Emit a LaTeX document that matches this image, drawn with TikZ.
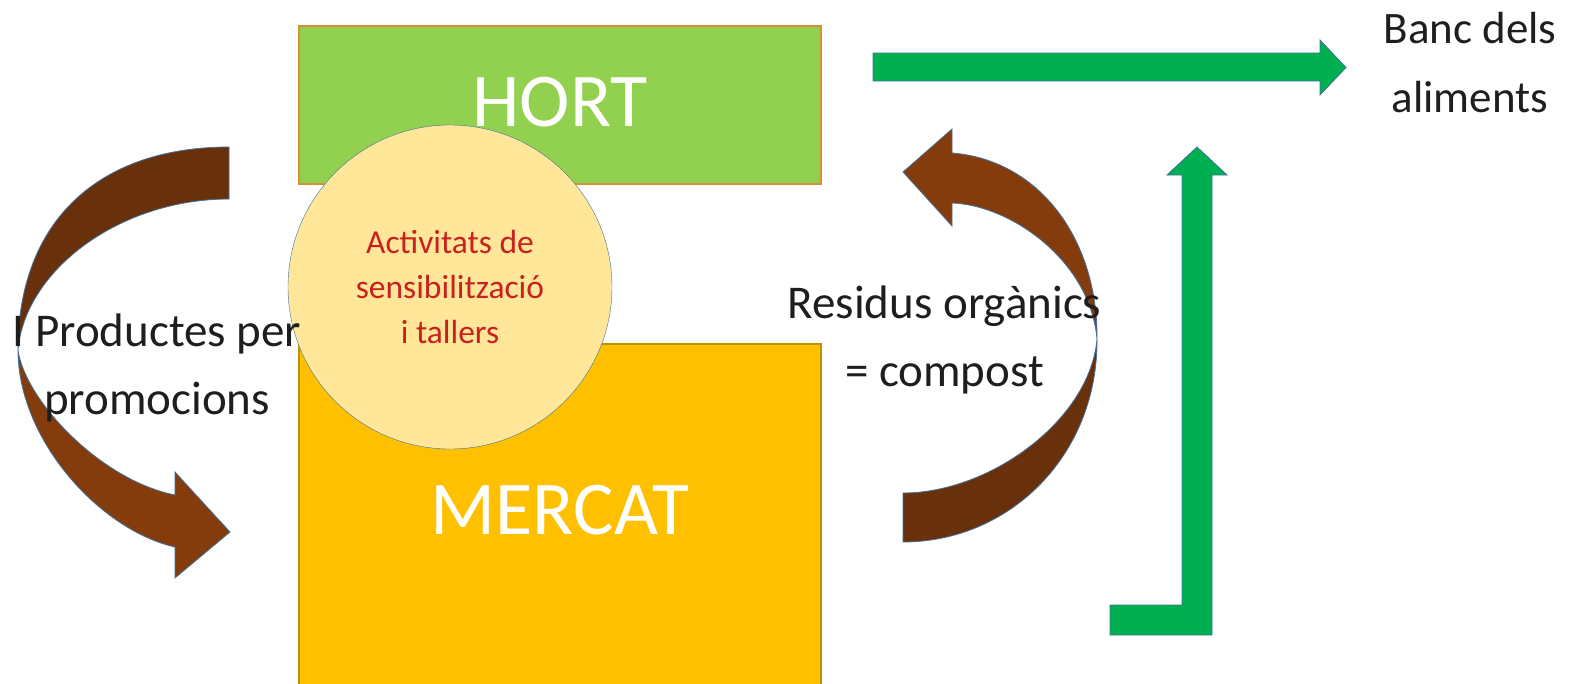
\documentclass[tikz,border=0pt]{standalone}
\usepackage{fontspec}
\setmainfont{Carlito}
\usepackage{xcolor}
\definecolor{hort-green}{HTML}{92D050}
\definecolor{hort-edge}{HTML}{D4913A}
\definecolor{mercat-gold}{HTML}{FFC000}
\definecolor{mercat-edge}{HTML}{BF9000}
\definecolor{taller-cream}{HTML}{FFE699}
\definecolor{taller-red}{HTML}{C9211E}
\definecolor{arrow-green}{HTML}{00B050}
\definecolor{brown-dark}{HTML}{69300C}
\definecolor{brown-light}{HTML}{843C0C}
\definecolor{edge-blue}{HTML}{41719C}
\definecolor{text-grey}{HTML}{1E1E1E}
\usepackage{tikz}

\begin{document}
\begin{tikzpicture}[x=1pt, y=-1pt,
    block/.style={draw, line width=1.2pt, minimum width=522pt, inner sep=0pt,
      text=white, font=\fontsize{76}{76}\selectfont},
    flowtext/.style={align=center, inner sep=0pt, text=text-grey,
      font=\fontsize{47}{68.5}\selectfont},
    bigarrow/.style={draw=edge-blue, line width=0.8pt}]

    % Page
    \useasboundingbox (0,0) rectangle (1580,683);

    % Boxes
    \node[block, fill=hort-green, draw=hort-edge, minimum height=158pt, text depth=6pt] (hort) at (560,105) {HORT};
    \node[block, fill=mercat-gold, draw=mercat-edge, minimum height=343pt, text depth=11pt] (mercat) at (560,515.5) {MERCAT};

    % Workshops
    \node[circle, draw=edge-blue, fill=taller-cream, minimum size=324pt, inner sep=0pt,
      text=taller-red, align=center, font=\fontsize{33.5}{45}\selectfont] (tallers) at (450,287)
      {Activitats de\\sensibilització\\i tallers};

    % Curved arrow, left
    \filldraw[bigarrow, fill=brown-dark] (229,147) .. controls (100,147) and (18,220) .. (18,350)
      .. controls (25,270) and (120,199) .. (229,199) -- cycle;
    \filldraw[bigarrow, fill=brown-light] (18,350) .. controls (18,440) and (100,530) .. (175,547)
      -- (175,578) -- (230,532) -- (175,472) -- (175,495)
      .. controls (100,480) and (25,400) .. (18,350) -- cycle;

    % Curved arrow, right
    \filldraw[bigarrow, fill=brown-dark] (903,542) .. controls (1010,542) and (1098,455) .. (1097,339)
      .. controls (1090,420) and (990,493) .. (903,493) -- cycle;
    \filldraw[bigarrow, fill=brown-light] (1097,339) .. controls (1098,240) and (1040,160) .. (952,153)
      -- (952,129) -- (903,172) -- (952,226) -- (952,203)
      .. controls (1010,205) and (1090,260) .. (1097,339) -- cycle;

    % Green arrows
    \filldraw[bigarrow, fill=arrow-green] (873,53) -- (1320,53) -- (1320,40) -- (1346,67.5)
      -- (1320,95) -- (1320,81) -- (873,81) -- cycle;
    \filldraw[bigarrow, fill=arrow-green] (1110,605) -- (1182,605) -- (1182,175) -- (1167,175)
      -- (1197,147) -- (1227,175) -- (1212,175) -- (1212,635) -- (1110,635) -- cycle;

    % Texts
    \node[flowtext] (productes) at (157,368) {I Productes per\\promocions};
    \node[flowtext] (residus) at (944.5,340) {Residus orgànics\\= compost};
    \node[flowtext, font=\fontsize{45}{69}\selectfont] (banc) at (1470,62.5) {Banc dels\\aliments};

\end{tikzpicture}
\end{document}
